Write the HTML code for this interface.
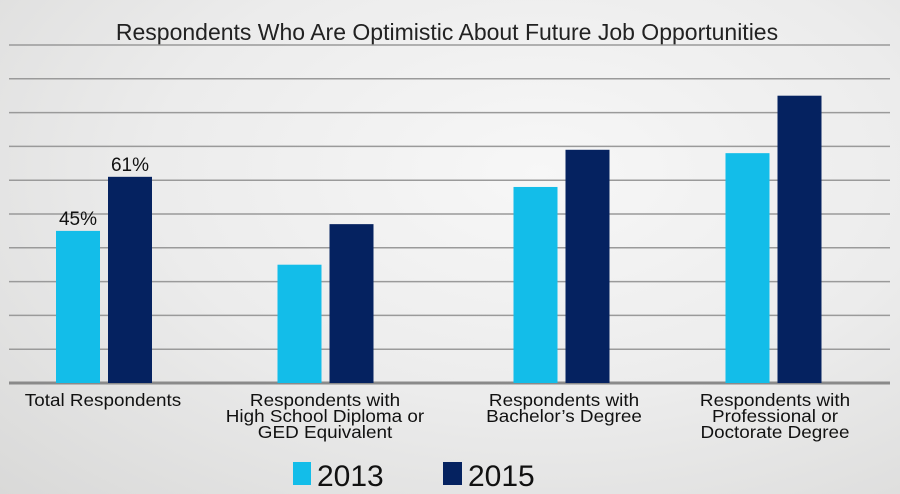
<!DOCTYPE html>
<html><head><meta charset="utf-8"><style>
html,body{margin:0;padding:0}
body{width:900px;height:494px;overflow:hidden;background:radial-gradient(ellipse at 60% 35%,#f7f7f7 0%,#ececec 50%,#d9d9d8 100%);font-family:"Liberation Sans",sans-serif}
svg{display:block}
</style></head><body>
<svg width="900" height="494">
<text x="447" y="40" text-anchor="middle" font-size="23" fill="#222">Respondents Who Are Optimistic About Future Job Opportunities</text>
<g id="grid"></g><g id="bars"></g><g id="labels"></g>
<g>
<rect x="293" y="462" width="18" height="23" fill="#13bde9"/>
<text x="317" y="486" font-size="30" fill="#111">2013</text>
<rect x="443" y="462" width="19" height="23" fill="#052260"/>
<text x="468" y="486" font-size="30" fill="#111">2015</text>
</g>
</svg>
<script>
const categories=[["Total Respondents"],["Respondents with","High School Diploma or","GED Equivalent"],["Respondents with","Bachelor’s Degree"],["Respondents with","Professional or","Doctorate Degree"]];
const values2013=[45,35,58,68];
const values2015=[61,47,69,85];
const printed2013=["45%","","",""];
const printed2015=["61%","","",""];
const ticks=[0,10,20,30,40,50,60,70,80,90,100];
const NS="http://www.w3.org/2000/svg";
const y0=383,pxPer=3.38,centers=[104,325.5,561.5,773.5],bw=44;
const y=v=>y0-v*pxPer;
function mk(t,a,p){const e=document.createElementNS(NS,t);for(const k in a)e.setAttribute(k,a[k]);p.appendChild(e);return e;}
const grid=document.getElementById('grid'),bars=document.getElementById('bars'),labels=document.getElementById('labels');
ticks.forEach((t,i)=>{const l=mk('line',{x1:9,x2:890,y1:y(t),y2:y(t),stroke:i==0?'#8a8a8a':'#9a9a9a','stroke-width':i==0?3:1.5},grid);

});
const labelCenters=[103,325,564,775];
categories.forEach((c,i)=>{
 const cx=centers[i];
 const b1=mk('rect',{x:cx-48,y:y(values2013[i]),width:bw,height:values2013[i]*pxPer,fill:'#13bde9'},bars);
 
 
 const b2=mk('rect',{x:cx+4,y:y(values2015[i]),width:bw,height:values2015[i]*pxPer,fill:'#052260'},bars);
 
 
 if(printed2013[i]){const t=mk('text',{x:cx-26,y:y(values2013[i])-6,'text-anchor':'middle','font-size':19,fill:'#111'},labels);t.textContent=printed2013[i];
 
 }
 if(printed2015[i]){const t=mk('text',{x:cx+26,y:y(values2015[i])-6,'text-anchor':'middle','font-size':19,fill:'#111'},labels);t.textContent=printed2015[i];
 
 }
 const g=mk('g',{transform:'translate('+labelCenters[i]+',0) scale(1.08,1)'},labels);
 
 
 c.forEach((ln,j)=>{const t=mk('text',{x:0,y:406+j*16,'text-anchor':'middle','font-size':17.5,fill:'#111'},g);t.textContent=ln;});
});
</script>
</body></html>
